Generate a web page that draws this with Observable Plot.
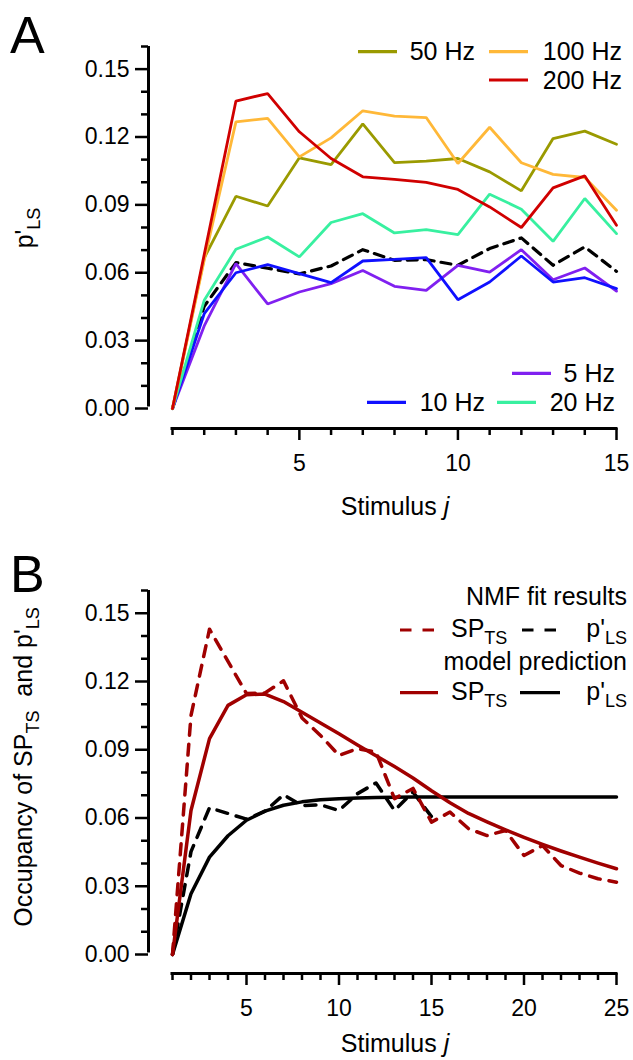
<!DOCTYPE html>
<html><head><meta charset="utf-8">
<script src="https://cdn.jsdelivr.net/npm/d3@7"></script>
<script src="https://cdn.jsdelivr.net/npm/@observablehq/plot@0.6"></script>
<style>
body{margin:0;background:#fff}
#chart svg{display:block}
</style>
</head><body><div id="chart"></div>
<script>
// ---------- Panel A data ----------
const stimA = [1,2,3,4,5,6,7,8,9,10,11,12,13,14,15];
const hz5   = [0,0.0365,0.0640,0.0462,0.0515,0.0552,0.0610,0.0540,0.0522,0.0633,0.0603,0.0702,0.0569,0.0621,0.0519];
const hz10  = [0,0.0419,0.0600,0.0636,0.0596,0.0556,0.0652,0.0659,0.0667,0.0481,0.0559,0.0674,0.0559,0.0578,0.0530];
const hz20  = [0,0.0478,0.0704,0.0758,0.0670,0.0822,0.0861,0.0776,0.0791,0.0769,0.0947,0.0881,0.0739,0.0928,0.0773];
const hz50  = [0,0.0665,0.0938,0.0895,0.1108,0.1078,0.1258,0.1087,0.1093,0.1105,0.1046,0.0962,0.1193,0.1226,0.1168];
const hz100 = [0,0.0655,0.1267,0.1282,0.1112,0.1196,0.1316,0.1292,0.1286,0.1083,0.1243,0.1086,0.1035,0.1021,0.0876];
const hz200 = [0,0.0680,0.1359,0.1392,0.1223,0.1105,0.1024,0.1013,0.0999,0.0968,0.0891,0.0800,0.0975,0.1028,0.0810];
const pLSfit = [0,0.0452,0.0645,0.0620,0.0595,0.0630,0.0702,0.0655,0.0658,0.0633,0.0707,0.0754,0.0633,0.0714,0.0606];

// ---------- Panel B data ----------
const stimB = [1,2,3,4,5,6,7,8,9,10,11,12,13,14,15,16,17,18,19,20,21,22,23,24,25];
const spNMF   = [0,0.1050,0.1430,0.1288,0.1147,0.1150,0.1203,0.1040,0.0963,0.0875,0.0905,0.0890,0.0685,0.0730,0.0582,0.0626,0.0553,0.0523,0.0545,0.0435,0.0479,0.0391,0.0358,0.0333,0.0318];
const spModel = [0,0.0633,0.0949,0.1095,0.1142,0.1145,0.1112,0.1065,0.1018,0.0970,0.0921,0.0874,0.0826,0.0776,0.0720,0.0667,0.0620,0.0583,0.0548,0.0515,0.0484,0.0455,0.0428,0.0402,0.0377];
const pLSmodel= [0,0.0267,0.0428,0.0522,0.0590,0.0630,0.0656,0.0671,0.0680,0.0685,0.0688,0.0690,0.0691,0.0692,0.0692,0.0692,0.0692,0.0692,0.0692,0.0692,0.0692,0.0692,0.0692,0.0692,0.0692];

// ---------- ticks ----------
const yMajor = [0,0.03,0.06,0.09,0.12,0.15];
const yMinor = [0.01,0.02,0.04,0.05,0.07,0.08,0.10,0.11,0.13,0.14,0.16];
const xMajorA = [5,10,15];
const xMinorA = [1,2,3,4,6,7,8,9,11,12,13,14];
const xMajorB = [5,10,15,20,25];
const xMinorB = [1,2,3,4,6,7,8,9,11,12,13,14,16,17,18,19,21,22,23,24];

const FONT = "Liberation Sans, Arial, Helvetica, sans-serif";
const col = {h5:"#8020f0", h10:"#1010ff", h20:"#38f0a0", h50:"#9a9a00", h100:"#ffb838", h200:"#d00000", dark:"#a00000"};

const rows = (xs, ys) => xs.map((x,i)=>({x, y: ys[i]}));

function axes(xMaj, xMin, xmax, offX, offY) {
  return [
    Plot.ruleX([1], {y1: 0, y2: 0.16, dx: -offX, strokeWidth: 3, insetTop: -1.5}),
    Plot.ruleY([0], {x1: 1, x2: xmax, dy: offY, strokeWidth: 3, insetLeft: -1.5, insetRight: -1.5}),
    Plot.axisY({ticks: yMajor, tickSize: 13, tickPadding: 6, dx: -offX, tickFormat: d3.format(".2f"), strokeWidth: 2.5, fontSize: 23, label: null}),
    Plot.axisY({ticks: yMinor, tickSize: 7, dx: -offX, tickFormat: () => "", strokeWidth: 2.5, label: null}),
    Plot.axisX({ticks: xMaj, tickSize: 12, tickPadding: 14, dy: offY, tickFormat: d3.format("d"), strokeWidth: 2.5, fontSize: 23, label: null}),
    Plot.axisX({ticks: xMin, tickSize: 7, dy: offY, tickFormat: () => "", strokeWidth: 2.5, label: null})
  ];
}

function addText(svg, x, y, parts, {size = 25, anchor = "start", rotate = 0} = {}) {
  const t = d3.select(svg).append("text")
    .attr("font-family", FONT).attr("font-size", size).attr("fill", "#000")
    .attr("text-anchor", anchor)
    .attr("transform", `translate(${x},${y})` + (rotate ? ` rotate(${rotate})` : ""));
  let shifted = 0;
  for (const p of parts) {
    const s = t.append("tspan").text(p.t);
    if (p.sub) { s.attr("font-size", size * 0.72).attr("dy", (size*0.28 - shifted)); shifted = size*0.28; }
    else { if (shifted) s.attr("dy", -shifted); shifted = 0; }
    if (p.italic) s.attr("font-style", "italic");
  }
  return t;
}
function addLine(svg, x1, x2, y, color, dash) {
  const l = d3.select(svg).append("line").attr("x1", x1).attr("x2", x2).attr("y1", y).attr("y2", y)
    .attr("stroke", color).attr("stroke-width", 3.2);
  if (dash) l.attr("stroke-dasharray", dash);
}

// ---------- Panel A ----------
const A = Plot.plot({
  width: 633, height: 530,
  marginLeft: 172, marginRight: 17, marginTop: 46, marginBottom: 122,
  style: {fontFamily: FONT, fontSize: "23px", background: "white", overflow: "visible", color: "#000"},
  x: {domain: [1, 15]},
  y: {domain: [0, 0.16]},
  marks: [
    ...axes(xMajorA, xMinorA, 15, 24, 20),
    Plot.line(rows(stimA, pLSfit), {x: "x", y: "y", stroke: "#000", strokeWidth: 3.2, strokeDasharray: "10,7"}),
    Plot.line(rows(stimA, hz5),   {x: "x", y: "y", stroke: col.h5,   strokeWidth: 2.8, strokeLinejoin: "miter"}),
    Plot.line(rows(stimA, hz10),  {x: "x", y: "y", stroke: col.h10,  strokeWidth: 2.8, strokeLinejoin: "miter"}),
    Plot.line(rows(stimA, hz20),  {x: "x", y: "y", stroke: col.h20,  strokeWidth: 2.8, strokeLinejoin: "miter"}),
    Plot.line(rows(stimA, hz50),  {x: "x", y: "y", stroke: col.h50,  strokeWidth: 2.8, strokeLinejoin: "miter"}),
    Plot.line(rows(stimA, hz100), {x: "x", y: "y", stroke: col.h100, strokeWidth: 2.8, strokeLinejoin: "miter"}),
    Plot.line(rows(stimA, hz200), {x: "x", y: "y", stroke: col.h200, strokeWidth: 2.8, strokeLinejoin: "miter"})
  ]
});

// ---------- Panel B ----------
const B = Plot.plot({
  width: 633, height: 530,
  marginLeft: 172, marginRight: 17, marginTop: 60, marginBottom: 106,
  style: {fontFamily: FONT, fontSize: "23px", background: "white", overflow: "visible", color: "#000"},
  x: {domain: [1, 25]},
  y: {domain: [0, 0.16]},
  marks: [
    ...axes(xMajorB, xMinorB, 25, 24, 19),
    Plot.line(rows(stimA, pLSfit),  {x: "x", y: "y", stroke: "#000", strokeWidth: 3.5, strokeDasharray: "11,9"}),
    Plot.line(rows(stimB, pLSmodel),{x: "x", y: "y", stroke: "#000", strokeWidth: 3.5}),
    Plot.line(rows(stimB, spModel), {x: "x", y: "y", stroke: col.dark, strokeWidth: 3.5}),
    Plot.line(rows(stimB, spNMF),   {x: "x", y: "y", stroke: col.dark, strokeWidth: 3.5, strokeDasharray: "11,9"})
  ]
});

// ---------- Texts & legends A ----------
addText(A, 10, 53, [{t: "A"}], {size: 52});
addText(A, 33, 228, [{t: "p'"}, {t: "LS", sub: true}], {size: 25, anchor: "middle", rotate: -90});
addText(A, 395, 515, [{t: "Stimulus "}, {t: "j", italic: true}], {size: 25, anchor: "middle"});

addLine(A, 358, 397, 51.7, col.h50);
addText(A, 475, 60, [{t: "50 Hz"}], {anchor: "end"});
addLine(A, 489, 528, 51.7, col.h100);
addText(A, 622, 60, [{t: "100 Hz"}], {anchor: "end"});
addLine(A, 489, 528, 80, col.h200);
addText(A, 622, 89, [{t: "200 Hz"}], {anchor: "end"});

addLine(A, 512, 551, 373.3, col.h5);
addText(A, 615, 382, [{t: "5 Hz"}], {anchor: "end"});
addLine(A, 367, 406, 402.3, col.h10);
addText(A, 485, 411, [{t: "10 Hz"}], {anchor: "end"});
addLine(A, 497, 536, 402.3, col.h20);
addText(A, 615, 411, [{t: "20 Hz"}], {anchor: "end"});

// ---------- Texts & legends B ----------
addText(B, 10, 62, [{t: "B"}], {size: 52});
addText(B, 32, 237, [{t: "Occupancy of SP"}, {t: "TS", sub: true}, {t: "\u00A0 and p'"}, {t: "LS", sub: true}], {size: 25, anchor: "middle", rotate: -90});
addText(B, 395, 522, [{t: "Stimulus "}, {t: "j", italic: true}], {size: 25, anchor: "middle"});

addText(B, 627, 75, [{t: "NMF fit results"}], {anchor: "end"});
addLine(B, 400, 434, 100, col.dark, "11.5,11");
addText(B, 451, 107, [{t: "SP"}, {t: "TS", sub: true}]);
addLine(B, 522, 556, 100, "#000", "11.5,11");
addText(B, 627, 107, [{t: "p'"}, {t: "LS", sub: true}], {anchor: "end"});
addText(B, 627, 140, [{t: "model prediction"}], {anchor: "end"});
addLine(B, 400, 438, 162.7, col.dark);
addText(B, 451, 170, [{t: "SP"}, {t: "TS", sub: true}]);
addLine(B, 520, 560, 162.7, "#000");
addText(B, 627, 170, [{t: "p'"}, {t: "LS", sub: true}], {anchor: "end"});

const chart = document.getElementById("chart");
chart.appendChild(A);
chart.appendChild(B);
</script>
</body></html>
